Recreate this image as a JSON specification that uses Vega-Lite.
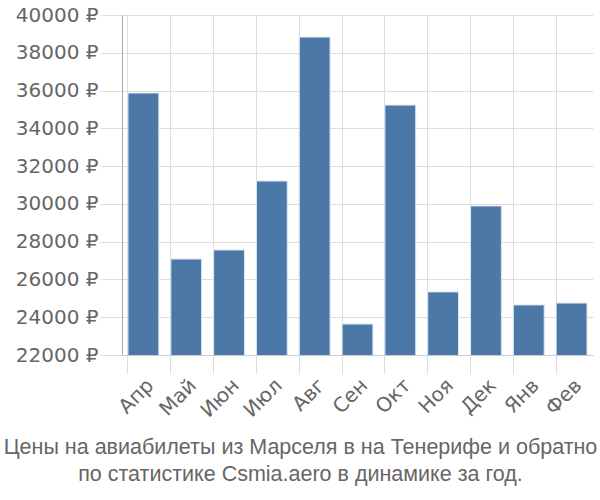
{
  "$schema": "https://vega.github.io/schema/vega-lite/v6.json",
  "autosize": "none",
  "width": 471,
  "height": 340,
  "padding": {"left": 122, "top": 15, "right": 7, "bottom": 145},
  "background": "white",
  "title": {
    "text": ["Цены на авиабилеты из Марселя в на Тенерифе и обратно", "по статистике Csmia.aero в динамике за год."],
    "orient": "bottom",
    "anchor": "middle",
    "font": "Liberation Sans",
    "fontSize": 21.5,
    "fontWeight": "normal",
    "color": "#666666",
    "lineHeight": 27,
    "offset": 16,
    "dx": -57
  },
  "data": {
    "values": [
      {"m": "Апр", "v": 35870},
      {"m": "Май", "v": 27080},
      {"m": "Июн", "v": 27560},
      {"m": "Июл", "v": 31210},
      {"m": "Авг", "v": 38830},
      {"m": "Сен", "v": 23640},
      {"m": "Окт", "v": 35230},
      {"m": "Ноя", "v": 25340},
      {"m": "Дек", "v": 29890},
      {"m": "Янв", "v": 24650},
      {"m": "Фев", "v": 24750}
    ]
  },
  "mark": {"type": "bar", "color": "#4c78a8", "stroke": "#dde6f0", "strokeWidth": 1, "clip": true},
  "encoding": {
    "x": {
      "field": "m", "type": "nominal", "sort": null,
      "scale": {"paddingInner": 0.28, "paddingOuter": 0.14},
      "axis": {
        "title": null, "labelAngle": -45, "labelFont": "DejaVu Sans", "labelFontSize": 20,
        "labelColor": "#666666", "bandPosition": 0, "grid": true, "gridColor": "#dddddd",
        "tickColor": "#dddddd", "tickSize": 18, "domainColor": "#cccccc", "labelPadding": 2
      }
    },
    "y": {
      "field": "v", "type": "quantitative",
      "scale": {"domain": [22000, 40000], "nice": false, "zero": false},
      "axis": {
        "title": null, "values": [22000, 24000, 26000, 28000, 30000, 32000, 34000, 36000, 38000, 40000],
        "labelExpr": "datum.value + ' ₽'", "labelFont": "DejaVu Sans", "labelFontSize": 20,
        "labelColor": "#666666", "gridColor": "#dddddd", "tickColor": "#dddddd", "tickSize": 22,
        "domainColor": "#aaaaaa", "labelPadding": 2
      }
    }
  },
  "config": {"view": {"stroke": null}}
}
